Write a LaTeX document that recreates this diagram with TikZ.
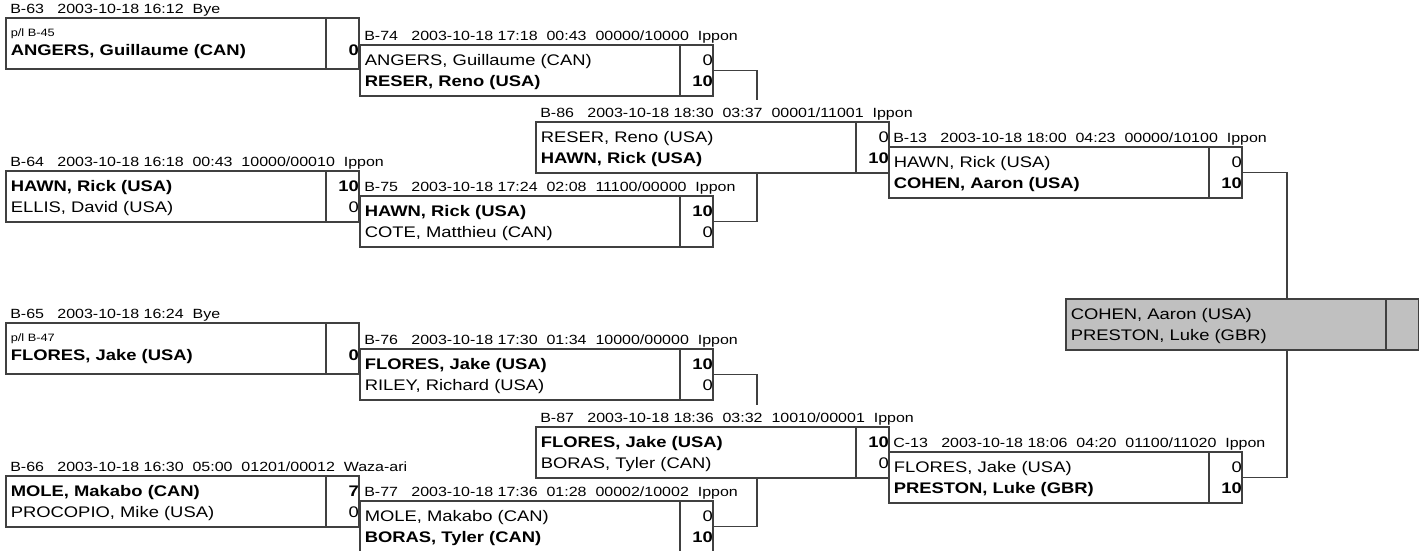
\documentclass[tikz,border=0pt]{standalone}
\usepackage{fontspec}
\setmainfont{Liberation Sans}[FakeStretch=1.2]
\usepackage{tikz}
\usetikzlibrary{positioning, calc}

\begin{document}
\begin{tikzpicture}[x=0.75pt, y=-0.75pt,
    box/.style={draw=black!75, line width=0.8pt, rectangle, minimum width=264.75pt, minimum height=38.25pt, inner sep=0pt, outer sep=0pt, anchor=north west},
    head/.style={inner sep=0pt, anchor=base west, font=\fontsize{10}{12}\selectfont},
    player/.style={inner sep=0pt, anchor=base west, font=\fontsize{11.5}{13}\selectfont},
    winner/.style={player, font=\fontsize{11.5}{13}\selectfont\bfseries},
    pool/.style={inner sep=0pt, anchor=base west, font=\fontsize{8}{10}\selectfont},
    score/.style={inner sep=0pt, anchor=base east, font=\fontsize{11.5}{13}\selectfont},
    winscore/.style={score, font=\fontsize{11.5}{13}\selectfont\bfseries},
    conn/.style={draw=black!75, line width=0.8pt}]
    \useasboundingbox (0,0) rectangle (1419,550);

    % first round
    \node (b63) [box] at (6,18) {};
    \node (b63h) [head] at ([shift={(4,-4.5)}]b63.north west) {B-63~~~2003-10-18~16:12~~Bye};
    \node (b63a) [pool] at ([shift={(4.5,18.7)}]b63.north west) {p/l B-45};
    \node (b63b) [winner] at ([shift={(4.5,37)}]b63.north west) {ANGERS, Guillaume (CAN)};
    \node (b63bs) [winscore] at ([shift={(0,37)}]b63.north east) {0};

    \node (b64) [box] at (6,171) {};
    \node (b64h) [head] at ([shift={(4,-4.5)}]b64.north west) {B-64~~~2003-10-18~16:18~~00:43~~10000/00010~~Ippon};
    \node (b64a) [winner] at ([shift={(4.5,20)}]b64.north west) {HAWN, Rick (USA)};
    \node (b64b) [player] at ([shift={(4.5,41)}]b64.north west) {ELLIS, David (USA)};
    \node (b64as) [winscore] at ([shift={(0,20)}]b64.north east) {10};
    \node (b64bs) [score] at ([shift={(0,41)}]b64.north east) {0};

    \node (b65) [box] at (6,323) {};
    \node (b65h) [head] at ([shift={(4,-4.5)}]b65.north west) {B-65~~~2003-10-18~16:24~~Bye};
    \node (b65a) [pool] at ([shift={(4.5,18.7)}]b65.north west) {p/l B-47};
    \node (b65b) [winner] at ([shift={(4.5,37)}]b65.north west) {FLORES, Jake (USA)};
    \node (b65bs) [winscore] at ([shift={(0,37)}]b65.north east) {0};

    \node (b66) [box] at (6,476) {};
    \node (b66h) [head] at ([shift={(4,-4.5)}]b66.north west) {B-66~~~2003-10-18~16:30~~05:00~~01201/00012~~Waza-ari};
    \node (b66a) [winner] at ([shift={(4.5,20)}]b66.north west) {MOLE, Makabo (CAN)};
    \node (b66b) [player] at ([shift={(4.5,41)}]b66.north west) {PROCOPIO, Mike (USA)};
    \node (b66as) [winscore] at ([shift={(0,20)}]b66.north east) {7};
    \node (b66bs) [score] at ([shift={(0,41)}]b66.north east) {0};

    % second round
    \node (b74) [box] at (360,45) {};
    \node (b74h) [head] at ([shift={(4,-4.5)}]b74.north west) {B-74~~~2003-10-18~17:18~~00:43~~00000/10000~~Ippon};
    \node (b74a) [player] at ([shift={(4.5,20)}]b74.north west) {ANGERS, Guillaume (CAN)};
    \node (b74b) [winner] at ([shift={(4.5,41)}]b74.north west) {RESER, Reno (USA)};
    \node (b74as) [score] at ([shift={(0,20)}]b74.north east) {0};
    \node (b74bs) [winscore] at ([shift={(0,41)}]b74.north east) {10};

    \node (b75) [box] at (360,196) {};
    \node (b75h) [head] at ([shift={(4,-4.5)}]b75.north west) {B-75~~~2003-10-18~17:24~~02:08~~11100/00000~~Ippon};
    \node (b75a) [winner] at ([shift={(4.5,20)}]b75.north west) {HAWN, Rick (USA)};
    \node (b75b) [player] at ([shift={(4.5,41)}]b75.north west) {COTE, Matthieu (CAN)};
    \node (b75as) [winscore] at ([shift={(0,20)}]b75.north east) {10};
    \node (b75bs) [score] at ([shift={(0,41)}]b75.north east) {0};

    \node (b76) [box] at (360,349) {};
    \node (b76h) [head] at ([shift={(4,-4.5)}]b76.north west) {B-76~~~2003-10-18~17:30~~01:34~~10000/00000~~Ippon};
    \node (b76a) [winner] at ([shift={(4.5,20)}]b76.north west) {FLORES, Jake (USA)};
    \node (b76b) [player] at ([shift={(4.5,41)}]b76.north west) {RILEY, Richard (USA)};
    \node (b76as) [winscore] at ([shift={(0,20)}]b76.north east) {10};
    \node (b76bs) [score] at ([shift={(0,41)}]b76.north east) {0};

    \node (b77) [box] at (360,501) {};
    \node (b77h) [head] at ([shift={(4,-4.5)}]b77.north west) {B-77~~~2003-10-18~17:36~~01:28~~00002/10002~~Ippon};
    \node (b77a) [player] at ([shift={(4.5,20)}]b77.north west) {MOLE, Makabo (CAN)};
    \node (b77b) [winner] at ([shift={(4.5,41)}]b77.north west) {BORAS, Tyler (CAN)};
    \node (b77as) [score] at ([shift={(0,20)}]b77.north east) {0};
    \node (b77bs) [winscore] at ([shift={(0,41)}]b77.north east) {10};

    % third round
    \node (b86) [box] at (536,122) {};
    \node (b86h) [head] at ([shift={(4,-4.5)}]b86.north west) {B-86~~~2003-10-18~18:30~~03:37~~00001/11001~~Ippon};
    \node (b86a) [player] at ([shift={(4.5,20)}]b86.north west) {RESER, Reno (USA)};
    \node (b86b) [winner] at ([shift={(4.5,41)}]b86.north west) {HAWN, Rick (USA)};
    \node (b86as) [score] at ([shift={(0,20)}]b86.north east) {0};
    \node (b86bs) [winscore] at ([shift={(0,41)}]b86.north east) {10};

    \node (b87) [box] at (536,427) {};
    \node (b87h) [head] at ([shift={(4,-4.5)}]b87.north west) {B-87~~~2003-10-18~18:36~~03:32~~10010/00001~~Ippon};
    \node (b87a) [winner] at ([shift={(4.5,20)}]b87.north west) {FLORES, Jake (USA)};
    \node (b87b) [player] at ([shift={(4.5,41)}]b87.north west) {BORAS, Tyler (CAN)};
    \node (b87as) [winscore] at ([shift={(0,20)}]b87.north east) {10};
    \node (b87bs) [score] at ([shift={(0,41)}]b87.north east) {0};

    % semi finals
    \node (b13) [box] at (889,147) {};
    \node (b13h) [head] at ([shift={(4,-4.5)}]b13.north west) {B-13~~~2003-10-18~18:00~~04:23~~00000/10100~~Ippon};
    \node (b13a) [player] at ([shift={(4.5,20)}]b13.north west) {HAWN, Rick (USA)};
    \node (b13b) [winner] at ([shift={(4.5,41)}]b13.north west) {COHEN, Aaron (USA)};
    \node (b13as) [score] at ([shift={(0,20)}]b13.north east) {0};
    \node (b13bs) [winscore] at ([shift={(0,41)}]b13.north east) {10};

    \node (c13) [box] at (889,452) {};
    \node (c13h) [head] at ([shift={(4,-4.5)}]c13.north west) {C-13~~~2003-10-18~18:06~~04:20~~01100/11020~~Ippon};
    \node (c13a) [player] at ([shift={(4.5,20)}]c13.north west) {FLORES, Jake (USA)};
    \node (c13b) [winner] at ([shift={(4.5,41)}]c13.north west) {PRESTON, Luke (GBR)};
    \node (c13as) [score] at ([shift={(0,20)}]c13.north east) {0};
    \node (c13bs) [winscore] at ([shift={(0,41)}]c13.north east) {10};

    % final
    \node (fin) [box, fill={rgb,255:red,192;green,192;blue,192}] at (1066,299) {};
    \node (fina) [player] at ([shift={(4.5,20.5)}]fin.north west) {COHEN, Aaron (USA)};
    \node (finb) [player] at ([shift={(4.5,41)}]fin.north west) {PRESTON, Luke (GBR)};

    \foreach \m in {b63,b64,b65,b66,b74,b75,b76,b77,b86,b87,b13,c13,fin}
        \draw[conn] ([shift={(-33,0)}]\m.north east) -- ([shift={(-33,0)}]\m.south east);

    \coordinate (b86top) at ([shift={(221,-22)}]b86.north west);
    \coordinate (b86bot) at ([shift={(221,0)}]b86.south west);
    \coordinate (b87top) at ([shift={(221,-22)}]b87.north west);
    \coordinate (b87bot) at ([shift={(221,0)}]b87.south west);
    \coordinate (fintop) at ([shift={(221,0)}]fin.north west);
    \coordinate (finbot) at ([shift={(221,0)}]fin.south west);

    \draw[conn] (b74.east) -| (b86top);
    \draw[conn] (b75.east) -| (b86bot);
    \draw[conn] (b76.east) -| (b87top);
    \draw[conn] (b77.east) -| (b87bot);
    \draw[conn] (b13.east) -| (fintop);
    \draw[conn] (c13.east) -| (finbot);
\end{tikzpicture}
\end{document}
